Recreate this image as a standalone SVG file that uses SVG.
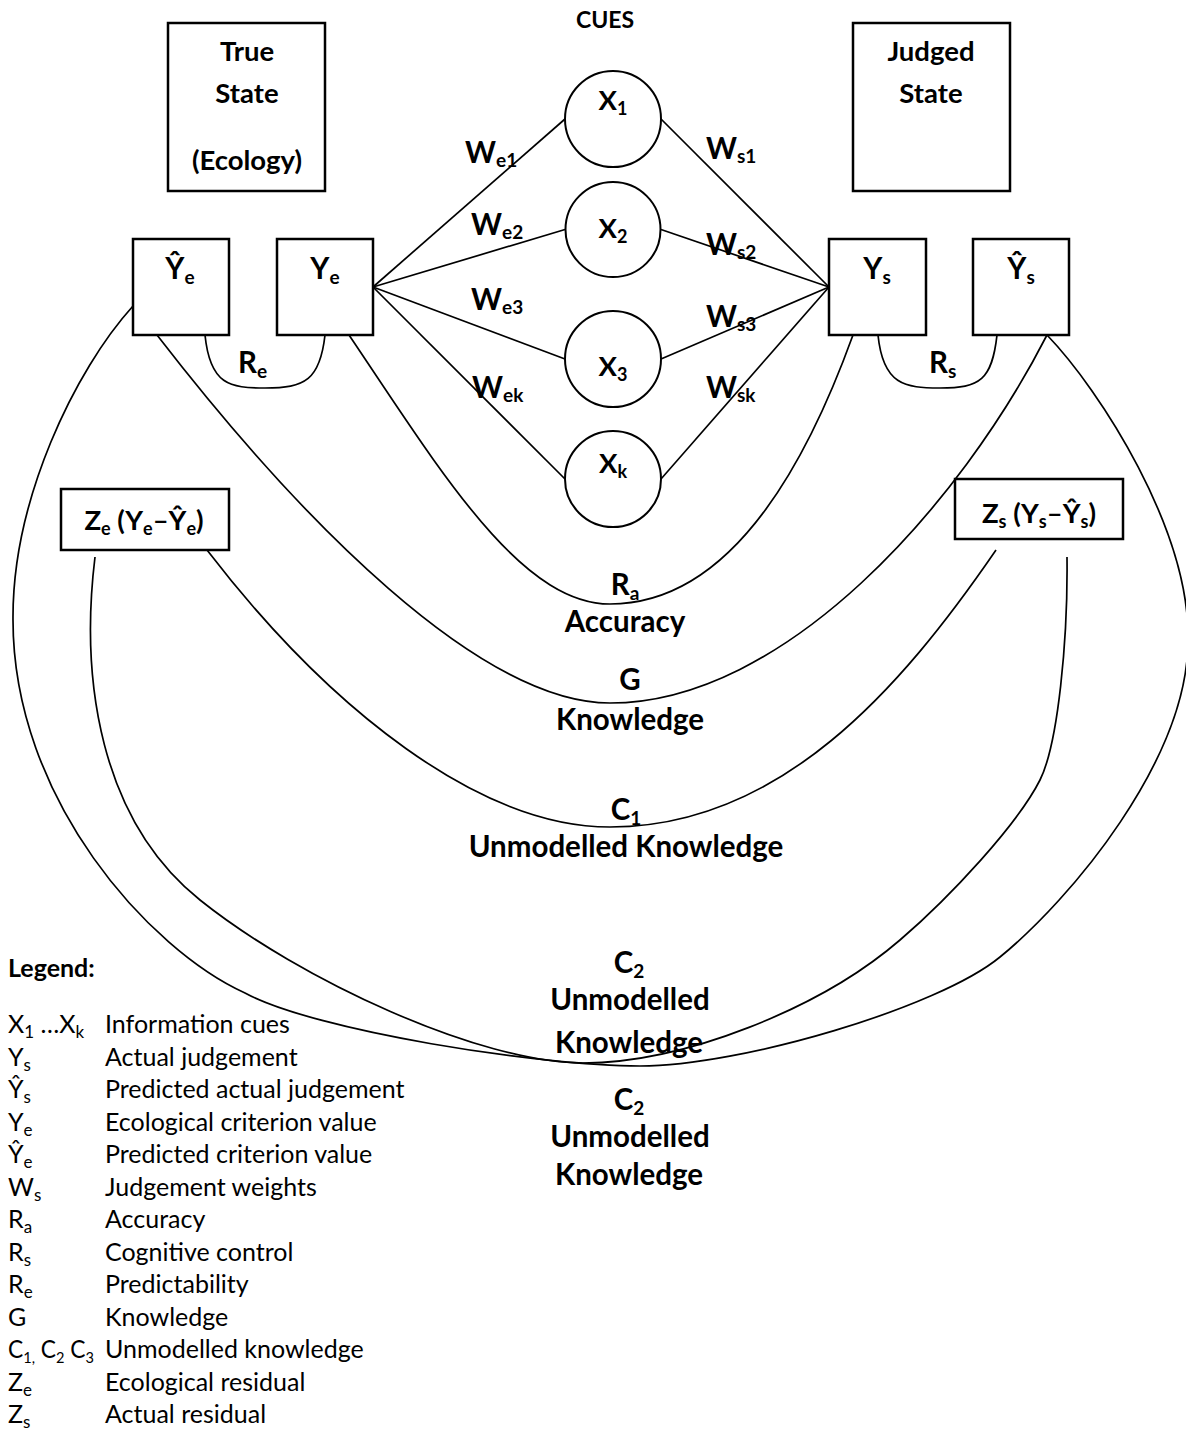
<svg xmlns="http://www.w3.org/2000/svg" width="1186" height="1432" viewBox="0 0 1186 1432">
<style>
text { font-family: Lato, "Liberation Sans", sans-serif; fill: #000; }
.b { font-weight: bold; }
.lbl { font-size: 29.5px; }
.bx { font-size: 27.5px; }
.cue { font-size: 23px; }
.leg { font-size: 25px; font-weight: normal; }
.box { fill: #fff; stroke: #000; stroke-width: 2.5; }
.circ { fill: #fff; stroke: #000; stroke-width: 2; }
.ln { fill: none; stroke: #000; stroke-width: 1.7; }
</style>
<rect width="1186" height="1432" fill="#fff"/>

<g id="connectors">
  <line class="ln" x1="373" y1="287" x2="565" y2="119"/>
  <line class="ln" x1="373" y1="287" x2="565" y2="229.5"/>
  <line class="ln" x1="373" y1="287" x2="565" y2="359"/>
  <line class="ln" x1="373" y1="287" x2="565" y2="479"/>
  <line class="ln" x1="661" y1="119" x2="829" y2="287"/>
  <line class="ln" x1="661" y1="229.5" x2="829" y2="287"/>
  <line class="ln" x1="661" y1="359" x2="829" y2="287"/>
  <line class="ln" x1="661" y1="479" x2="829" y2="287"/>
  <path class="ln" d="M205,335 C210,385 230,388 265,388 C305,388 320,380 325,335"/>
  <path class="ln" d="M878,335 C883,385 905,388 940,388 C980,388 992,380 997,335"/>
  <path class="ln" d="M349,335 C440,470 520,604 610,604 C740,604 815,440 853,335"/>
  <path class="ln" d="M157,335 C300,520 480,703 610,703 C785,703 960,505 1047,335"/>
  <path class="ln" d="M207,550 C330,710 480,827 610,827 C780,827 900,690 996,550"/>
  <path class="ln" d="M95,557 C80,680 100,820 200,900 C300,980 480,1063 583,1063 C683,1063 820,1009 900,940 C950,897 1017.5,824.5 1040,780 C1058,744 1068,640 1067,557"/>
  <path class="ln" d="M133,306 C75,370 12,500 13,620 C13,800 150,950 245,993 C315,1031 540,1066 640,1066 C740,1066 938,1008 1000,957 C1070,900 1188,760 1188,640 C1190,530 1100,390 1047,335"/>
</g>

<g id="true-state">
  <rect class="box" x="168" y="23" width="157" height="168"/>
  <text class="b bx" x="247" y="61" text-anchor="middle">True</text>
  <text class="b bx" x="247" y="103" text-anchor="middle">State</text>
  <text class="b bx" x="247" y="170" text-anchor="middle">(Ecology)</text>
</g>
<g id="judged-state">
  <rect class="box" x="853" y="23" width="157" height="168"/>
  <text class="b bx" x="931" y="61" text-anchor="middle">Judged</text>
  <text class="b bx" x="931" y="103" text-anchor="middle">State</text>
</g>
<g id="cues-title">
  <text class="b cue" x="605" y="28" text-anchor="middle">CUES</text>
</g>

<g id="yhat-e">
  <rect class="box" x="133" y="239" width="96" height="96"/>
  <text class="b lbl" x="180" y="279" text-anchor="middle">Ŷ<tspan font-size="19" dy="5">e</tspan></text>
</g>
<g id="y-e">
  <rect class="box" x="277" y="239" width="96" height="96"/>
  <text class="b lbl" x="325" y="279" text-anchor="middle">Y<tspan font-size="19" dy="5">e</tspan></text>
</g>
<g id="y-s">
  <rect class="box" x="829" y="239" width="97" height="96"/>
  <text class="b lbl" x="877" y="279" text-anchor="middle">Y<tspan font-size="19" dy="5">s</tspan></text>
</g>
<g id="yhat-s">
  <rect class="box" x="973" y="239" width="96" height="96"/>
  <text class="b lbl" x="1021" y="279" text-anchor="middle">Ŷ<tspan font-size="19" dy="5">s</tspan></text>
</g>

<g id="x1">
  <circle class="circ" cx="613" cy="119" r="48"/>
  <text class="b bx" x="613" y="110" text-anchor="middle">X<tspan font-size="18" dy="5">1</tspan></text>
</g>
<g id="x2">
  <circle class="circ" cx="613" cy="229.5" r="47.5"/>
  <text class="b bx" x="613" y="238" text-anchor="middle">X<tspan font-size="18" dy="5">2</tspan></text>
</g>
<g id="x3">
  <circle class="circ" cx="613" cy="359" r="48"/>
  <text class="b bx" x="613" y="376" text-anchor="middle">X<tspan font-size="18" dy="5">3</tspan></text>
</g>
<g id="xk">
  <circle class="circ" cx="613" cy="479" r="48"/>
  <text class="b bx" x="613" y="473" text-anchor="middle">X<tspan font-size="18" dy="5">k</tspan></text>
</g>

<g id="ze">
  <rect class="box" x="61" y="489" width="168" height="61"/>
  <text class="b bx" x="144" y="530" text-anchor="middle">Z<tspan font-size="18" dy="5">e</tspan><tspan dy="-5"> (Y</tspan><tspan font-size="18" dy="5">e</tspan><tspan dy="-5">–Ŷ</tspan><tspan font-size="18" dy="5">e</tspan><tspan dy="-5">)</tspan></text>
</g>
<g id="zs">
  <rect class="box" x="955" y="479" width="168" height="60"/>
  <text class="b bx" x="1039" y="523" text-anchor="middle">Z<tspan font-size="18" dy="5">s</tspan><tspan dy="-5"> (Y</tspan><tspan font-size="18" dy="5">s</tspan><tspan dy="-5">–Ŷ</tspan><tspan font-size="18" dy="5">s</tspan><tspan dy="-5">)</tspan></text>
</g>

<g id="weights">
  <text class="b lbl" x="465" y="163">W<tspan font-size="19" dy="4">e1</tspan></text>
  <text class="b lbl" x="471" y="235">W<tspan font-size="19" dy="4">e2</tspan></text>
  <text class="b lbl" x="471" y="310">W<tspan font-size="19" dy="4">e3</tspan></text>
  <text class="b lbl" x="472" y="398">W<tspan font-size="19" dy="4">ek</tspan></text>
  <text class="b lbl" x="706" y="159">W<tspan font-size="19" dy="4">s1</tspan></text>
  <text class="b lbl" x="706" y="255">W<tspan font-size="19" dy="4">s2</tspan></text>
  <text class="b lbl" x="706" y="327">W<tspan font-size="19" dy="4">s3</tspan></text>
  <text class="b lbl" x="706" y="398">W<tspan font-size="19" dy="4">sk</tspan></text>
</g>

<g id="labels">
  <text class="b lbl" x="238" y="373">R<tspan font-size="19" dy="5">e</tspan></text>
  <text class="b lbl" x="929" y="373">R<tspan font-size="19" dy="5">s</tspan></text>
  <text class="b lbl" x="625" y="595" text-anchor="middle">R<tspan font-size="19" dy="5">a</tspan></text>
  <text class="b lbl" x="625" y="632" text-anchor="middle">Accuracy</text>
  <text class="b lbl" x="630" y="690" text-anchor="middle">G</text>
  <text class="b lbl" x="630" y="730" text-anchor="middle">Knowledge</text>
  <text class="b lbl" x="626" y="820" text-anchor="middle">C<tspan font-size="19" dy="5">1</tspan></text>
  <text class="b lbl" x="626" y="857" text-anchor="middle">Unmodelled Knowledge</text>
  <text class="b lbl" x="629" y="973" text-anchor="middle">C<tspan font-size="19" dy="5">2</tspan></text>
  <text class="b lbl" x="630" y="1010" text-anchor="middle">Unmodelled</text>
  <text class="b lbl" x="629" y="1053" text-anchor="middle">Knowledge</text>
  <text class="b lbl" x="629" y="1110" text-anchor="middle">C<tspan font-size="19" dy="5">2</tspan></text>
  <text class="b lbl" x="630" y="1147" text-anchor="middle">Unmodelled</text>
  <text class="b lbl" x="629" y="1185" text-anchor="middle">Knowledge</text>
</g>

<g id="legend">
  <text class="b" font-size="25" x="8" y="977">Legend:</text>
  <text class="leg" x="8" y="1033">X<tspan font-size="17" dy="5">1</tspan><tspan dy="-5"> …X</tspan><tspan font-size="17" dy="5">k</tspan></text>
  <text class="leg" x="105" y="1033">Information cues</text>
  <text class="leg" x="8" y="1065.5">Y<tspan font-size="17" dy="5">s</tspan></text>
  <text class="leg" x="105" y="1065.5">Actual judgement</text>
  <text class="leg" x="8" y="1098">Ŷ<tspan font-size="17" dy="5">s</tspan></text>
  <text class="leg" x="105" y="1098">Predicted actual judgement</text>
  <text class="leg" x="8" y="1130.5">Y<tspan font-size="17" dy="5">e</tspan></text>
  <text class="leg" x="105" y="1130.5">Ecological criterion value</text>
  <text class="leg" x="8" y="1163">Ŷ<tspan font-size="17" dy="5">e</tspan></text>
  <text class="leg" x="105" y="1163">Predicted criterion value</text>
  <text class="leg" x="8" y="1195.5">W<tspan font-size="17" dy="5">s</tspan></text>
  <text class="leg" x="105" y="1195.5">Judgement weights</text>
  <text class="leg" x="8" y="1228">R<tspan font-size="17" dy="5">a</tspan></text>
  <text class="leg" x="105" y="1228">Accuracy</text>
  <text class="leg" x="8" y="1260.5">R<tspan font-size="17" dy="5">s</tspan></text>
  <text class="leg" x="105" y="1260.5">Cognitive control</text>
  <text class="leg" x="8" y="1293">R<tspan font-size="17" dy="5">e</tspan></text>
  <text class="leg" x="105" y="1293">Predictability</text>
  <text class="leg" x="8" y="1325.5">G</text>
  <text class="leg" x="105" y="1325.5">Knowledge</text>
  <text class="leg" x="8" y="1358" textLength="86" lengthAdjust="spacingAndGlyphs">C<tspan font-size="16" dy="5">1,</tspan><tspan dy="-5"> C</tspan><tspan font-size="16" dy="5">2</tspan><tspan dy="-5"> C</tspan><tspan font-size="16" dy="5">3</tspan></text>
  <text class="leg" x="105" y="1358">Unmodelled knowledge</text>
  <text class="leg" x="8" y="1390.5">Z<tspan font-size="17" dy="5">e</tspan></text>
  <text class="leg" x="105" y="1390.5">Ecological residual</text>
  <text class="leg" x="8" y="1423">Z<tspan font-size="17" dy="5">s</tspan></text>
  <text class="leg" x="105" y="1423">Actual residual</text>
</g>
</svg>
